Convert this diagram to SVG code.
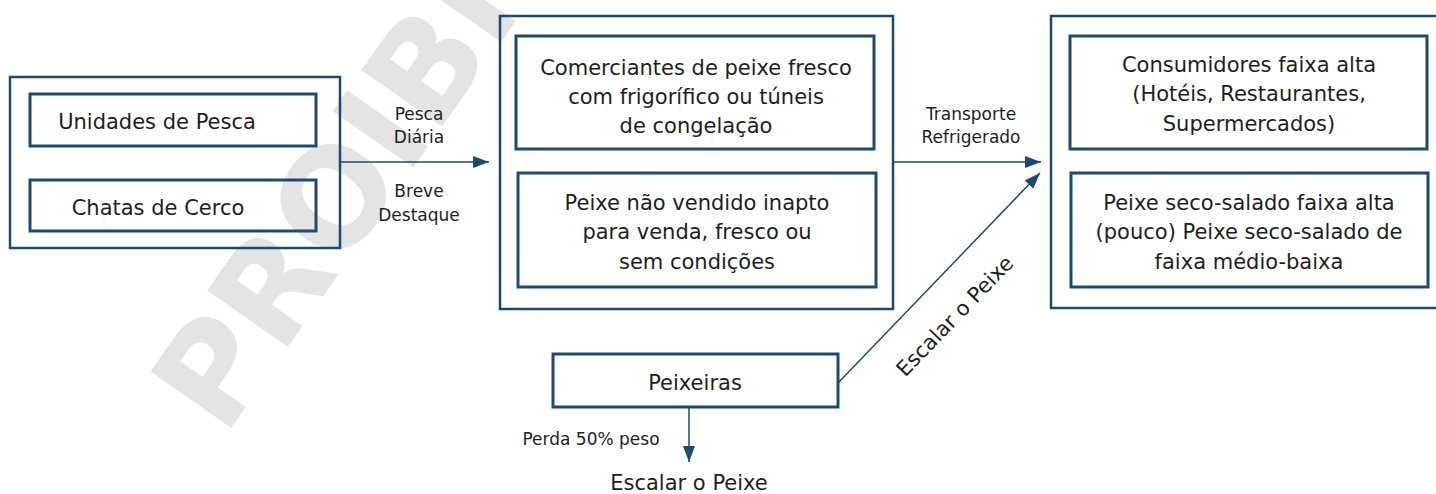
<svg xmlns="http://www.w3.org/2000/svg" width="1436" height="494" viewBox="0 0 1436 494">
<style>
.outer{fill:none;stroke:#1d4a74;stroke-width:2.5}
.inner{fill:none;stroke:#1d4a74;stroke-width:3}
.t{font-family:"DejaVu Sans","Liberation Sans",sans-serif;font-size:21px;fill:#1e1e1e;text-anchor:middle}
.s{font-family:"DejaVu Sans","Liberation Sans",sans-serif;font-size:17px;fill:#1e1e1e;text-anchor:middle}
.c{fill:none;stroke:#1d4a74;stroke-width:1.5}
.wm{font-family:"DejaVu Sans","Liberation Sans",sans-serif;font-weight:bold;font-size:135px;fill:#e4e4e4}
</style>
<defs>
<marker id="arr" markerUnits="userSpaceOnUse" markerWidth="17" markerHeight="12" refX="16" refY="6" orient="auto">
<path d="M0,0 L16,6 L0,12 Z" fill="#1d4a74"/>
</marker>
</defs>
<rect width="1436" height="494" fill="#ffffff"/>
<text class="wm" x="224" y="438" transform="rotate(-55 224 438)">PROIBI</text>

<g id="n-origem">
<rect class="outer" x="10" y="77" width="330" height="171"/>
</g>
<g id="n-unidades">
<rect class="inner" x="30" y="94" width="286" height="52"/>
<text class="t" x="157" y="129">Unidades de Pesca</text>
</g>
<g id="n-chatas">
<rect class="inner" x="30" y="180" width="286" height="51"/>
<text class="t" x="158" y="215">Chatas de Cerco</text>
</g>

<g id="n-comerciantes-grupo">
<rect class="outer" x="500" y="16" width="393" height="293"/>
</g>
<g id="n-comerciantes">
<rect class="inner" x="516" y="36" width="358" height="113"/>
<text class="t" x="696" y="75">Comerciantes de peixe fresco</text>
<text class="t" x="696" y="104">com frigorífico ou túneis</text>
<text class="t" x="696" y="133">de congelação</text>
</g>
<g id="n-nao-vendido">
<rect class="inner" x="518" y="173" width="358" height="114"/>
<text class="t" x="697" y="210">Peixe não vendido inapto</text>
<text class="t" x="697" y="239">para venda, fresco ou</text>
<text class="t" x="697" y="269">sem condições</text>
</g>

<g id="n-consumidores-grupo">
<rect class="outer" x="1051" y="16" width="400" height="292"/>
</g>
<g id="n-consumidores">
<rect class="inner" x="1070" y="36" width="357" height="113"/>
<text class="t" x="1249" y="72">Consumidores faixa alta</text>
<text class="t" x="1249" y="101">(Hotéis, Restaurantes,</text>
<text class="t" x="1249" y="131">Supermercados)</text>
</g>
<g id="n-seco-salado">
<rect class="inner" x="1071" y="173" width="357" height="114"/>
<text class="t" x="1249" y="210">Peixe seco-salado faixa alta</text>
<text class="t" x="1249" y="239">(pouco) Peixe seco-salado de</text>
<text class="t" x="1249" y="269">faixa médio-baixa</text>
</g>

<g id="n-peixeiras">
<rect class="inner" x="553" y="354" width="285" height="53"/>
<text class="t" x="695" y="390">Peixeiras</text>
</g>

<g id="n-escalar">
<text class="t" x="689" y="490">Escalar o Peixe</text>
</g>

<g id="connectors">
<line class="c" x1="340" y1="162" x2="489" y2="162" marker-end="url(#arr)"/>
<text class="s" x="419" y="120">Pesca</text>
<text class="s" x="419" y="143">Diária</text>
<text class="s" x="419" y="197">Breve</text>
<text class="s" x="419" y="221">Destaque</text>

<line class="c" x1="893" y1="162" x2="1041" y2="162" marker-end="url(#arr)"/>
<text class="s" x="971" y="120">Transporte</text>
<text class="s" x="971" y="143">Refrigerado</text>

<line class="c" x1="838" y1="383" x2="1040" y2="173" marker-end="url(#arr)"/>
<text class="t" x="960" y="321" transform="rotate(-46 960 321)">Escalar o Peixe</text>

<line class="c" x1="689" y1="407" x2="689" y2="462" marker-end="url(#arr)"/>
<text class="s" x="591" y="445">Perda 50% peso</text>
</g>
</svg>
